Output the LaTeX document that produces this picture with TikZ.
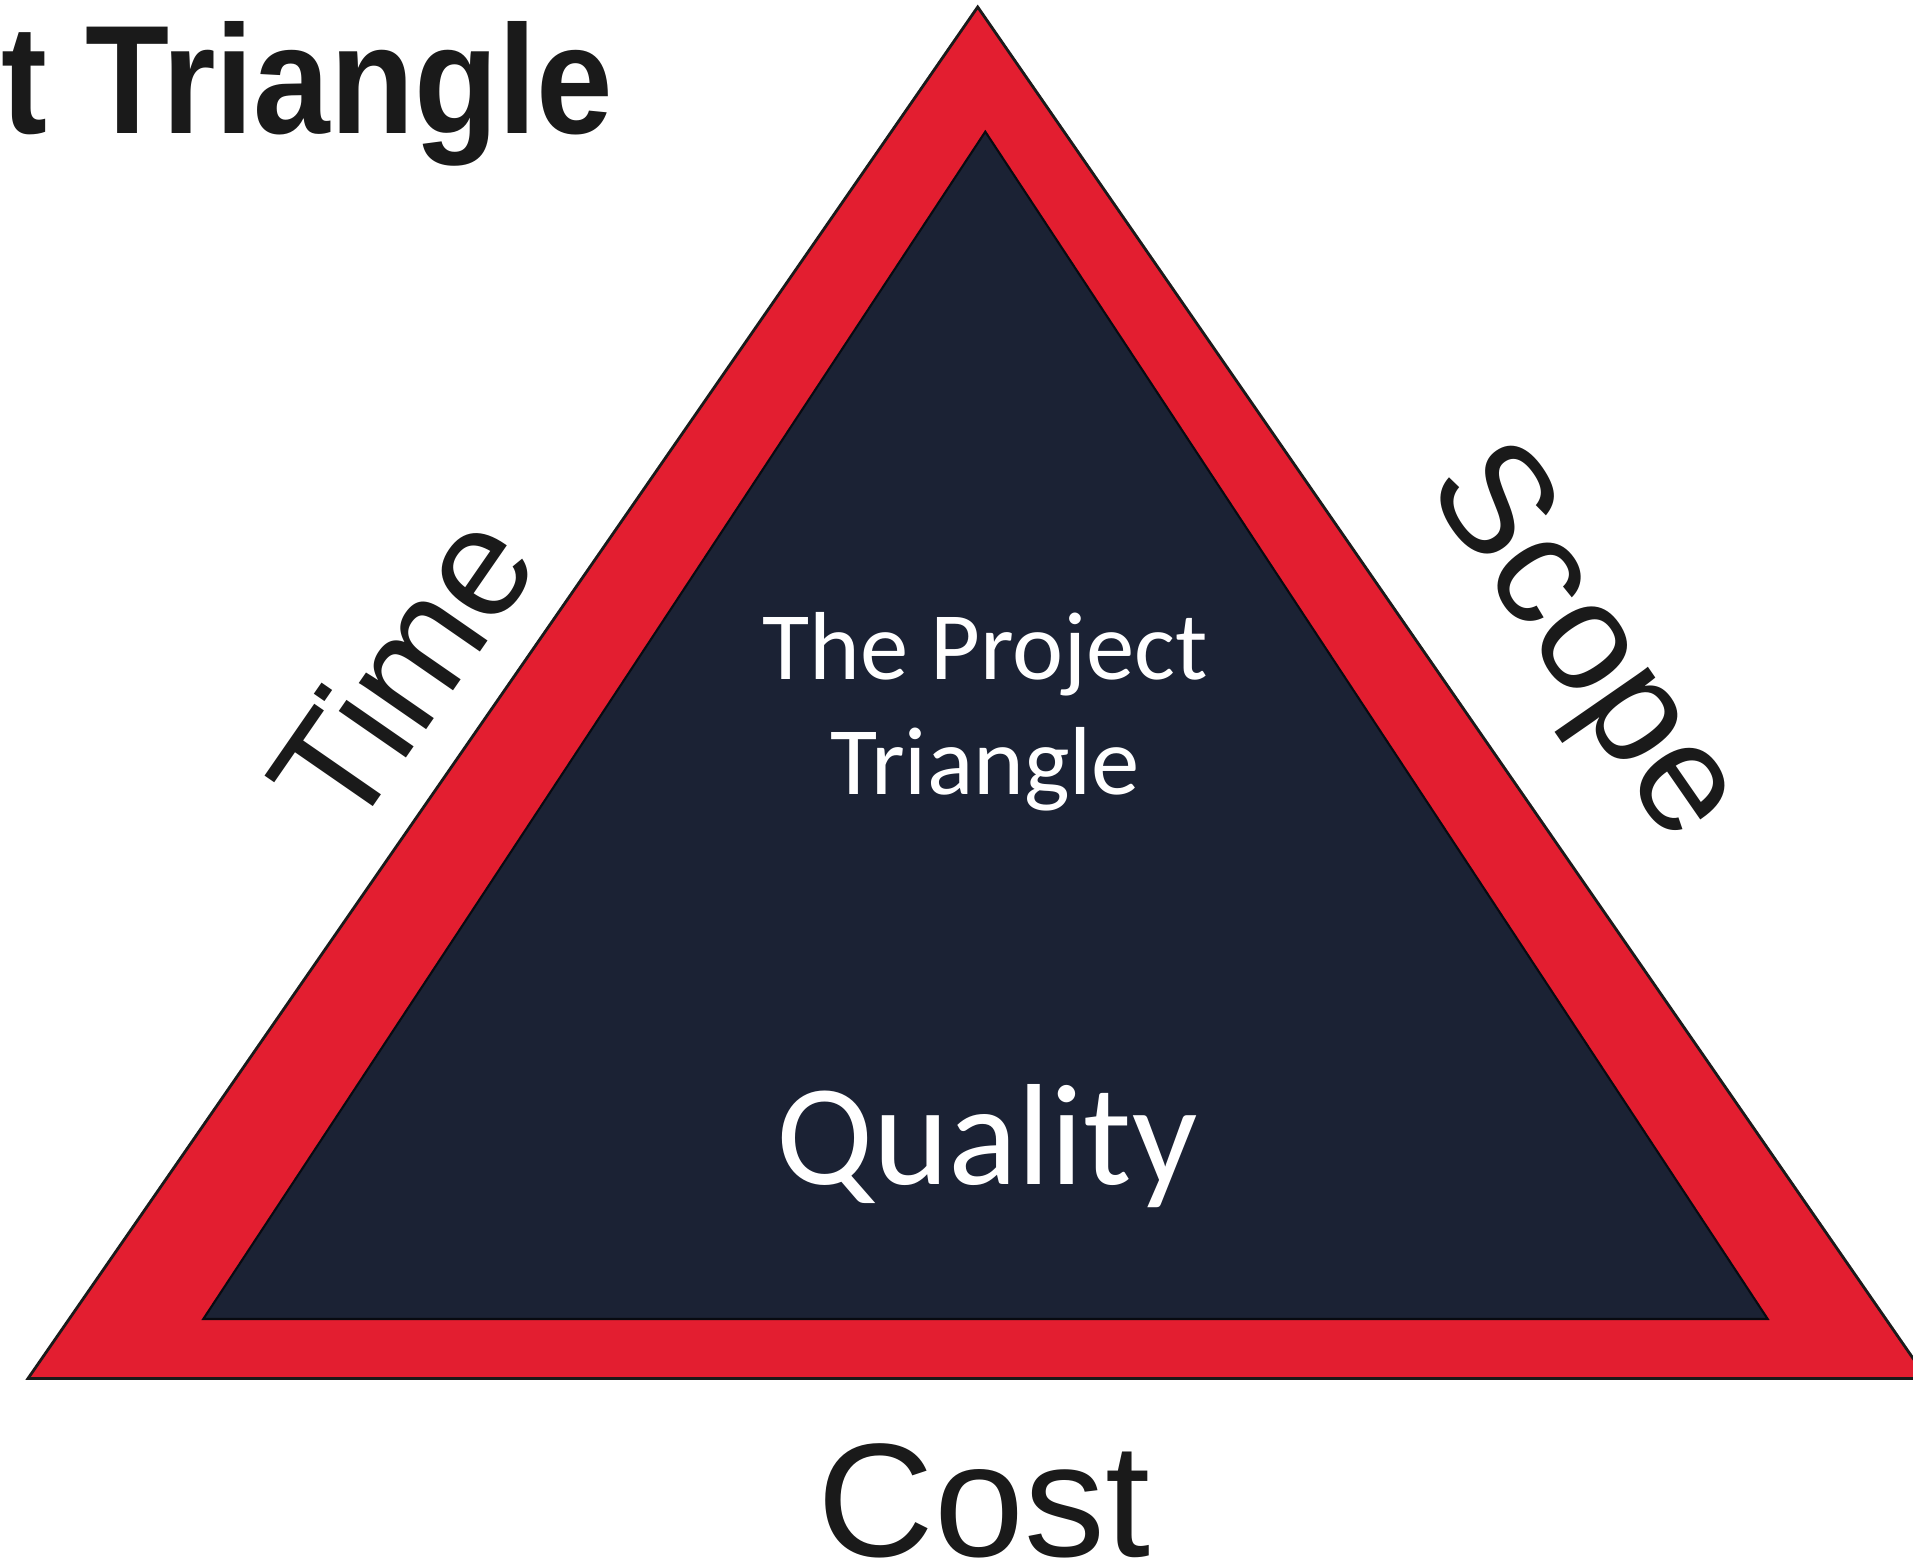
\documentclass[tikz,border=0pt]{standalone}
\usepackage{fontspec}
\usepackage{graphicx}
\setmainfont{Liberation Sans}
\newfontfamily\calibri{Carlito}
\definecolor{trired}{HTML}{E31E30}
\definecolor{trinavy}{HTML}{1B2234}
\definecolor{ink}{HTML}{1A1A1A}
\tikzstyle{sidetext} = [inner sep=0, anchor=base, text=ink, font=\fontsize{44}{53}\selectfont]
\tikzstyle{innertext} = [inner sep=0, anchor=base, text=white, align=center]

\begin{document}
\begin{tikzpicture}
    \useasboundingbox (0,0) rectangle (19.13,15.67);
    \clip (0,0) rectangle (19.13,15.67);
    % corners
    \coordinate (top) at (9.777,15.60);
    \coordinate (bl) at (0.28,1.885);
    \coordinate (br) at (19.27,1.885);
    \coordinate (itop) at (9.853,14.353);
    \coordinate (ibl) at (2.033,2.48);
    \coordinate (ibr) at (17.677,2.48);

    \filldraw[fill=trired, draw=ink, line width=0.8pt] (top) -- (bl) -- (br) -- cycle;
    \filldraw[fill=trinavy, draw=black!70!trinavy, line width=0.6pt] (itop) -- (ibl) -- (ibr) -- cycle;

    \node[anchor=base east, inner sep=0, text=ink, font=\bfseries\fontsize{44}{53}\selectfont] at (6.14,14.337) (title) {\scalebox{0.89}[1]{t Triangle}};

    \node[sidetext, rotate=55.31] at (4.466,8.662) (time) {Time};
    \node[sidetext, rotate=-55.31] at (15.49,9.0) (scope) {Scope};
    \node[sidetext, font=\fontsize{46}{55}\selectfont] at (9.84,0.10) (cost) {Cost};

    \node[innertext, font=\calibri\fontsize{27.5}{33}\selectfont] at (9.85,7.72) (name) {The Project\\Triangle};
    \node[innertext, font=\calibri\fontsize{41}{49}\selectfont] at (9.87,3.82) (quality) {Quality};
\end{tikzpicture}
\end{document}
